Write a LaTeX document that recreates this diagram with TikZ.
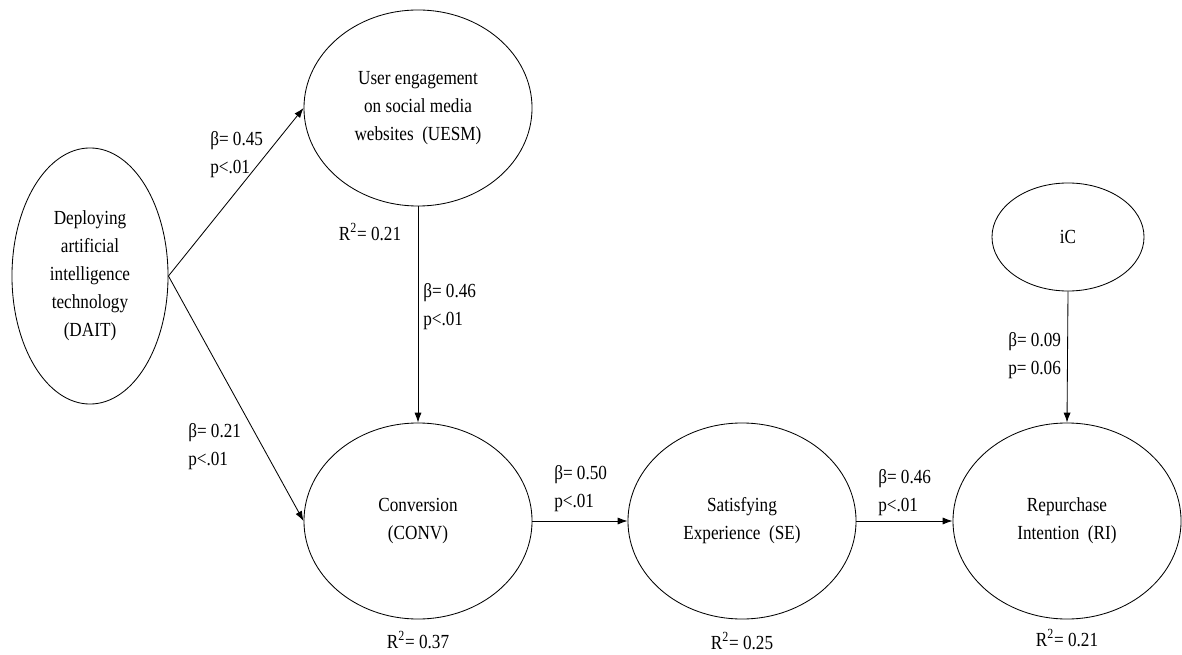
\documentclass[tikz,border=0pt]{standalone}
\usepackage{fontspec}
\setmainfont{Liberation Serif}[FakeStretch=0.86]
\usetikzlibrary{arrows.meta,shapes.geometric}
\tikzset{
  construct/.style={draw,ellipse,line width=0.6pt,inner sep=0pt,align=center,minimum width=5.7cm,minimum height=4.9cm},
  coef/.style={align=left,anchor=west,inner sep=0pt},
  link/.style={-{Latex[length=7pt,width=5pt]},line width=0.6pt}
}
\begin{document}
\begin{tikzpicture}[x=0.025cm,y=-0.025cm,font=\fontsize{14.2}{19.9}\selectfont]
      \useasboundingbox (0,0) rectangle (1182,655);
      \node[construct,minimum width=3.9cm,minimum height=6.4cm] (DAIT) at (90,276) {Deploying\\artificial\\intelligence\\technology\\(DAIT)};
      \node[construct] (UESM) at (418,108) {User engagement\\on social media\\websites~~(UESM)};
      \node[construct] (CONV) at (418,521) {Conversion\\(CONV)};
      \node[construct] (SE) at (742,521) {Satisfying\\Experience~~(SE)};
      \node[construct] (RI) at (1067,521) {Repurchase\\Intention~~(RI)};
      \node[construct,minimum width=3.8cm,minimum height=2.7cm] (iC) at (1068,237) {iC};
      \draw[link] (DAIT.east) -- (UESM.west);
      \draw[link] (DAIT.east) -- (CONV.west);
      \draw[link] (UESM.south) -- (CONV.north);
      \draw[link] (CONV.east) -- (SE.west);
      \draw[link] (SE.east) -- (RI.west);
      \draw[link] (iC.south) -- (RI.north);
      \node[coef] (b1) at (210,155) {β= 0.45\\p<.01};
      \node[coef] (b2) at (188,447) {β= 0.21\\p<.01};
      \node[coef] (b3) at (423,307) {β= 0.46\\p<.01};
      \node[coef] (b4) at (554,489) {β= 0.50\\p<.01};
      \node[coef] (b5) at (878,493) {β= 0.46\\p<.01};
      \node[coef] (b6) at (1008,356) {β= 0.09\\p= 0.06};
      \node (r1) at (370,232) {R\textsuperscript{2}= 0.21};
      \node (r2) at (418,640) {R\textsuperscript{2}= 0.37};
      \node (r3) at (742,641) {R\textsuperscript{2}= 0.25};
      \node (r4) at (1067,638) {R\textsuperscript{2}= 0.21};
\end{tikzpicture}
\end{document}
